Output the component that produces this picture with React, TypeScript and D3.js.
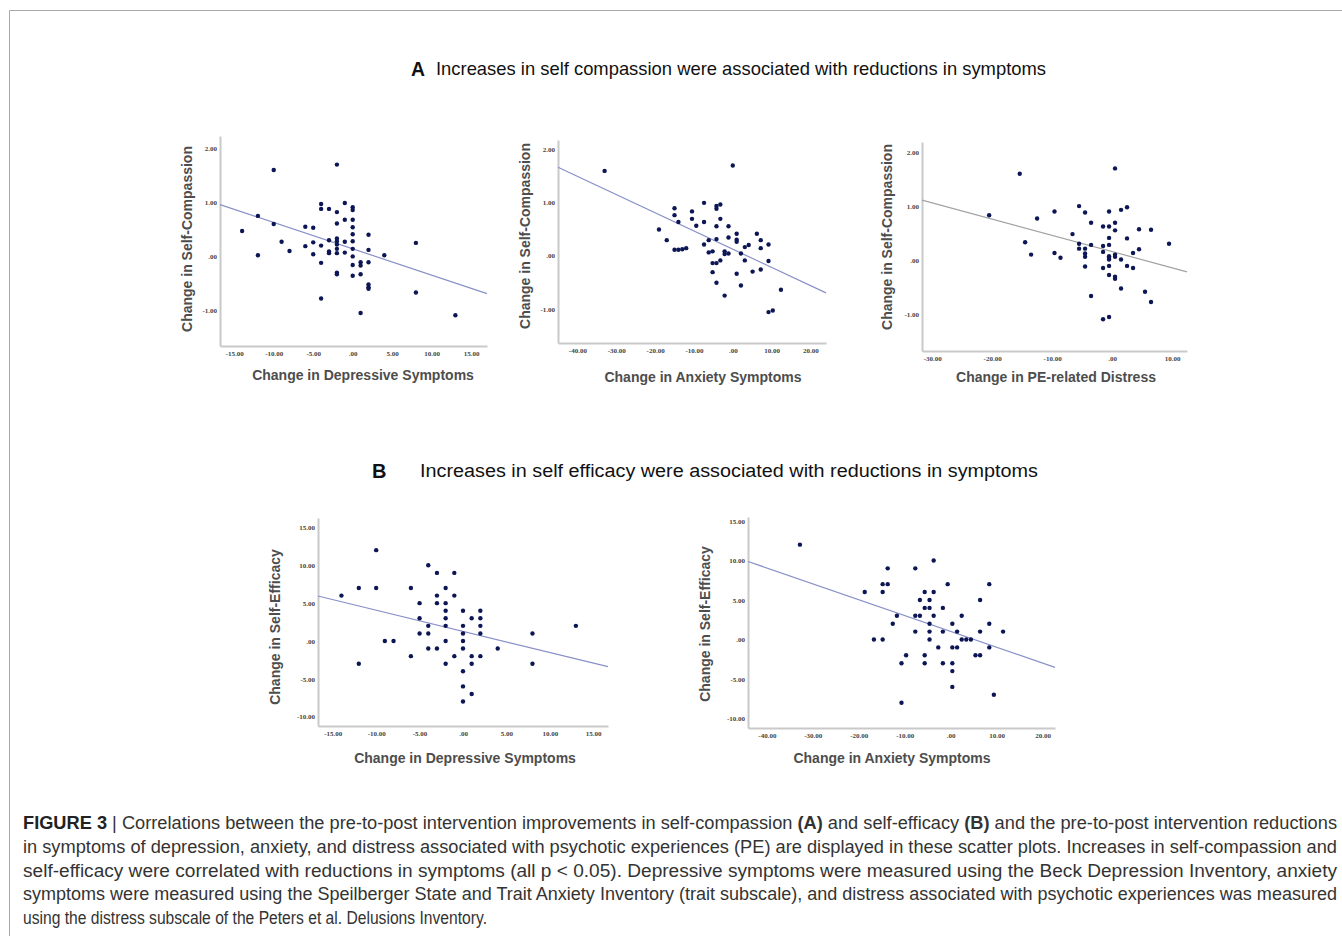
import React, { useEffect, useRef } from "react";
import * as d3 from "d3";

// A1: change in depressive symptoms vs change in self-compassion
const a1X = [-14, -12, -12, -10, -10, -9, -8, -6, -6, -5, -5, -5, -4, -4, -4, -4, -4, -3, -3, -3, -3,
  -2, -2, -2, -2, -2, -2, -2, -2, -2, -2, -1, -1, -1, -1, 0, 0, 0, 0, 0, 0, 0, 0, 0, 0,
  1, 1, 1, 1, 2, 2, 2, 2, 2, 2, 4, 8, 8, 13];
const a1Y = [0.47, 0.75, 0.02, 1.6, 0.6, 0.27, 0.1, 0.55, 0.19, 0.53, 0.26, 0.04, 0.97, 0.88, 0.2, -0.12, -0.78,
  0.88, 0.3, 0.09, 0.06, 1.7, 0.82, 0.61, 0.33, 0.28, 0.22, 0.14, 0.06, -0.3, -0.33, 0.99, 0.68, 0.27, 0.07,
  0.91, 0.86, 0.68, 0.54, 0.41, 0.28, 0.14, 0, -0.16, -0.36, -0.11, -0.17, -0.33, -1.05,
  0.4, 0.12, -0.11, -0.52, -0.57, -0.6, 0.02, 0.25, -0.67, -1.09];

// A2: change in anxiety symptoms vs change in self-compassion
const a2X = [-33, -19, -17, -15, -15, -15, -14, -14, -13, -12, -10.5, -10.5, -9.4, -7.4, -7.4, -7.4,
  -6.2, -6.2, -5.2, -5.2, -5.2, -4.2, -4.2, -4.2, -4.2, -4.2, -4.2, -3.2, -3.2, -3.2, -2.1, -2.1, -2.1,
  -1.1, -1.1, -1.1, 0, 1, 1, 1, 1, 2.1, 2.1, 3.1, 3.1, 4.1, 5.1, 6.2, 7.2, 7.2, 7.2, 9.2, 9.2, 9.2, 10.3, 12.4];
const a2Y = [1.59, 0.49, 0.29, 0.89, 0.76, 0.11, 0.63, 0.11, 0.12, 0.14, 0.69, 0.83, 0.56, 0.99, 0.63, 0.21,
  0.29, 0.06, 0.08, -0.14, -0.31, 0.93, 0.88, 0.55, 0.31, -0.14, -0.51, 0.96, 0.69, -0.09, -0.75, 0.08, 0.03,
  0.55, 0.34, 0.04, 1.69, 0.41, 0.3, 0.26, -0.34, 0.04, -0.56, 0.16, -0.09, 0.2, -0.3, 0.41, 0.29, 0.14, -0.26,
  0.21, -0.1, -1.06, -1.03, -0.64];

// A3: change in PE-related distress vs change in self-compassion
const a3X = [-20.5, -15.4, -14.5, -13.5, -12.5, -9.6, -9.6, -8.6, -6.6, -5.5, -5.5, -5.5, -4.5, -4.5, -4.5, -4.5, -4.5,
  -3.5, -3.5, -3.5, -1.5, -1.5, -1.5, -1.5, -1.5, -0.5, -0.5, -0.5, -0.5, -0.5, -0.5, -0.5, -0.5, -0.5, -0.5,
  0.5, 0.5, 0.5, 0.5, 0.5, 0.5, 0.5, 1.5, 1.5, 1.5, 2.5, 2.5, 2.5, 3.5, 3.5, 4.5, 4.5, 5.5, 6.5, 6.5, 9.5];
const a3Y = [0.83, 1.6, 0.33, 0.1, 0.77, 0.9, 0.13, 0.04, 0.48, 1.0, 0.3, 0.21, 0.88, 0.21, 0.12, 0.06, -0.12,
  0.69, 0.28, -0.67, 0.62, 0.26, 0.15, -0.15, -1.1, 0.9, 0.62, 0.41, 0.28, 0.07, 0.04, 0.01, -0.11, -0.28, -1.06,
  1.7, 0.69, 0.55, 0.1, 0.06, -0.31, -0.35, 0.93, 0.01, -0.53, 0.98, 0.4, -0.11, 0.13, -0.15, 0.57, 0.2, -0.59,
  0.56, -0.78, 0.3];

// B1: change in depressive symptoms vs change in self-efficacy
const b1X = [-14, -12, -12, -10, -10, -9, -8, -6, -6, -5, -5, -5, -4, -4, -4, -4, -3, -3, -3, -3,
  -2, -2, -2, -2, -2, -2, -2, -1, -1, -1, 0, 0, 0, 0, 0, 0, 0, 0, 1, 1, 1, 1, 2, 2, 2, 2, 2, 4, 8, 8, 13];
const b1Y = [6, 7, -3, 12, 7, 0, 0, 7, -2, 5, 3, 1, 10, 2, 1, -1, 9, 6, 5, -1,
  7, 5, 4, 3, 2, 0, -3, 9, 6, -2, 4, 2, 1, 0, -1, -4, -6, -8, 3, -2, -3, -7, 4, 3, 2, 1, -2, -1, 1, -3, 2];

// B2: change in anxiety symptoms vs change in self-efficacy
const b2X = [-32.8, -18.7, -16.7, -14.8, -14.8, -14.8, -13.7, -13.7, -12.6, -11.7, -10.7, -10.7, -9.7,
  -7.7, -7.7, -7.7, -6.7, -6.7, -5.65, -5.65, -5.65, -5.65, -4.6, -4.6, -4.6, -4.6, -4.6, -3.7, -3.7, -3.7,
  -2.7, -1.7, -1.7, -1.7, -0.65, 0.36, 0.36, 0.36, 0.36, 0.36, 1.4, 1.4, 2.4, 2.4, 3.4, 4.4, 5.4,
  6.4, 6.4, 6.4, 8.4, 8.4, 8.4, 9.4, 11.4];
const b2Y = [12, 6, 0, 7, 6, 0, 9, 7, 2, 3, -3, -8, -2,
  9, 3, 1, 5, 3, 6, 4, -2, -3, 5, 4, 2, 1, 0, 10, 6, 3,
  -1, 4, 1, -3, 7, 2, -1, -3, -4, -6, 1, -1, 3, 0, 0, 0, -2,
  5, 1, -2, 7, 2, -1, -7, 1];

// fitted lines (intercept, slope)
const a1Fit = [0.14, -0.0488];
const a2Fit = [0.121, -0.0342];
const a3Fit = [0.156, -0.0301];
const b1Fit = [1.28, -0.2796];
const b2Fit = [1.02, -0.2007];

const scTicks = [-1, 0, 1, 2];
const seTicks = [-10, -5, 0, 5, 10, 15];
const depTicks = [-15, -10, -5, 0, 5, 10, 15];
const anxTicks = [-40, -30, -20, -10, 0, 10, 20];
const peTicks = [-30, -20, -10, 0, 10];

const panels = [
  { xs: a1X, ys: a1Y, fit: a1Fit, xTicks: depTicks, yTicks: scTicks, xDom: [-16.8, 17], yDom: [-1.66, 2.23],
    box: [220, 487, 136, 346], xTitle: "Change in Depressive Symptoms", yTitle: "Change in Self-Compassion",
    xt: [363, 375], yt: [187, 239], lineColor: "#8990c8" },
  { xs: a2X, ys: a2Y, fit: a2Fit, xTicks: anxTicks, yTicks: scTicks, xDom: [-45, 24], yDom: [-1.64, 2.17],
    box: [558, 826, 140, 343], xTitle: "Change in Anxiety Symptoms", yTitle: "Change in Self-Compassion",
    xt: [703, 377], yt: [525, 236], lineColor: "#8990c8" },
  { xs: a3X, ys: a3Y, fit: a3Fit, xTicks: peTicks, yTicks: scTicks, xDom: [-31.7, 12.5], yDom: [-1.69, 2.19],
    box: [922, 1187, 142, 351], xTitle: "Change in PE-related Distress", yTitle: "Change in Self-Compassion",
    xt: [1056, 377], yt: [887, 237], lineColor: "#a3a3a3" },
  { xs: b1X, ys: b1Y, fit: b1Fit, xTicks: depTicks, yTicks: seTicks, xDom: [-16.7, 16.7], yDom: [-11.23, 16.25],
    box: [318, 608, 518, 726], xTitle: "Change in Depressive Symptoms", yTitle: "Change in Self-Efficacy",
    xt: [465, 758], yt: [275, 627], lineColor: "#8990c8" },
  { xs: b2X, ys: b2Y, fit: b2Fit, xTicks: anxTicks, yTicks: seTicks, xDom: [-44.1, 22.7], yDom: [-11.2, 15.5],
    box: [748, 1055, 517, 728], xTitle: "Change in Anxiety Symptoms", yTitle: "Change in Self-Efficacy",
    xt: [892, 758], yt: [705, 624], lineColor: "#8990c8" },
];

const fmt = (v: number) => (v === 0 ? ".00" : v.toFixed(2));

export default function App() {
  const ref = useRef<SVGSVGElement>(null);

  useEffect(() => {
    const svg = d3.select(ref.current);
    svg.selectAll(".panel").remove();

    panels.forEach((p) => {
      const [l, r, t, b] = p.box;
      const x = d3.scaleLinear().domain(p.xDom).range([l, r]);
      const y = d3.scaleLinear().domain(p.yDom).range([b, t]);
      const g = svg.append("g").attr("class", "panel");

      const styleAxis = (ag: any) => {
        ag.attr("font-family", "'Liberation Serif', serif").attr("font-size", 7).attr("font-weight", "bold");
        ag.select(".domain").attr("stroke", "#c9c9c9").attr("stroke-width", 2);
        ag.selectAll("text").attr("fill", "#444");
      };

      g.append("g")
        .attr("transform", `translate(${l},0)`)
        .call(d3.axisLeft(y).tickValues(p.yTicks).tickSize(0).tickSizeOuter(0).tickPadding(3).tickFormat(fmt as any))
        .call(styleAxis);

      g.append("g")
        .attr("transform", `translate(0,${b})`)
        .call(d3.axisBottom(x).tickValues(p.xTicks).tickSize(0).tickSizeOuter(0).tickPadding(5).tickFormat(fmt as any))
        .call(styleAxis);

      // regression line across the x range
      const [a, s] = p.fit;
      const line = d3.line<number>().x((d) => x(d)).y((d) => y(a + s * d));
      g.append("path")
        .attr("d", line(p.xDom))
        .attr("fill", "none")
        .attr("stroke", p.lineColor)
        .attr("stroke-width", 1.2);

      g.selectAll("circle.pt")
        .data(p.xs.map((v, i) => [v, p.ys[i]]))
        .join("circle")
        .attr("class", "pt")
        .attr("cx", (d) => x(d[0]))
        .attr("cy", (d) => y(d[1]))
        .attr("r", 2.2)
        .attr("fill", "#0d1655");

      g.append("text")
        .attr("x", p.xt[0])
        .attr("y", p.xt[1])
        .attr("dy", "0.35em")
        .attr("text-anchor", "middle")
        .attr("font-family", "'Liberation Sans', Arial, sans-serif")
        .attr("font-weight", "bold")
        .attr("font-size", 14)
        .attr("fill", "#4d4d4d")
        .text(p.xTitle);

      g.append("text")
        .attr("transform", `translate(${p.yt[0]},${p.yt[1]}) rotate(-90)`)
        .attr("dy", "0.35em")
        .attr("text-anchor", "middle")
        .attr("font-family", "'Liberation Sans', Arial, sans-serif")
        .attr("font-weight", "bold")
        .attr("font-size", 14)
        .attr("fill", "#4d4d4d")
        .text(p.yTitle);
    });
  }, []);

  const cap = { fontFamily: "'Liberation Sans', Arial, sans-serif", fontSize: 17.5, fill: "#333" };

  return (
    <div style={{ position: "absolute", left: 0, top: 0 }}>
      <svg ref={ref} width={1342} height={936} style={{ display: "block", background: "#fff" }}>
        <path d="M9.5,936V10.5H1342" fill="none" stroke="#a8a8a8" strokeWidth={1} />

        <text x={411} y={76} fontFamily="'Liberation Sans', Arial, sans-serif" fontWeight="bold" fontSize={21} fill="#111"
          textLength={14} lengthAdjust="spacingAndGlyphs">A</text>
        <text x={436} y={75} fontFamily="'Liberation Sans', Arial, sans-serif" fontSize={18.5} fill="#111"
          textLength={610} lengthAdjust="spacingAndGlyphs">
          Increases in self compassion were associated with reductions in symptoms
        </text>
        <text x={372} y={478} fontFamily="'Liberation Sans', Arial, sans-serif" fontWeight="bold" fontSize={20} fill="#111">B</text>
        <text x={420} y={477} fontFamily="'Liberation Sans', Arial, sans-serif" fontSize={18} fill="#111"
          textLength={618} lengthAdjust="spacingAndGlyphs">
          Increases in self efficacy were associated with reductions in symptoms
        </text>

        <text x={23} y={829} {...cap} textLength={1314} lengthAdjust="spacingAndGlyphs">
          <tspan fontWeight="bold" fill="#222">FIGURE 3</tspan> | Correlations between the pre-to-post intervention improvements in self-compassion <tspan fontWeight="bold">(A)</tspan> and self-efficacy <tspan fontWeight="bold">(B)</tspan> and the pre-to-post intervention reductions
        </text>
        <text x={23} y={853} {...cap} textLength={1314} lengthAdjust="spacingAndGlyphs">
          in symptoms of depression, anxiety, and distress associated with psychotic experiences (PE) are displayed in these scatter plots. Increases in self-compassion and
        </text>
        <text x={23} y={876.5} {...cap} textLength={1314} lengthAdjust="spacingAndGlyphs">
          self-efficacy were correlated with reductions in symptoms (all p &lt; 0.05). Depressive symptoms were measured using the Beck Depression Inventory, anxiety
        </text>
        <text x={23} y={900} {...cap} textLength={1314} lengthAdjust="spacingAndGlyphs">
          symptoms were measured using the Speilberger State and Trait Anxiety Inventory (trait subscale), and distress associated with psychotic experiences was measured
        </text>
        <text x={23} y={923.5} {...cap} textLength={464} lengthAdjust="spacingAndGlyphs">
          using the distress subscale of the Peters et al. Delusions Inventory.
        </text>
      </svg>
    </div>
  );
}
